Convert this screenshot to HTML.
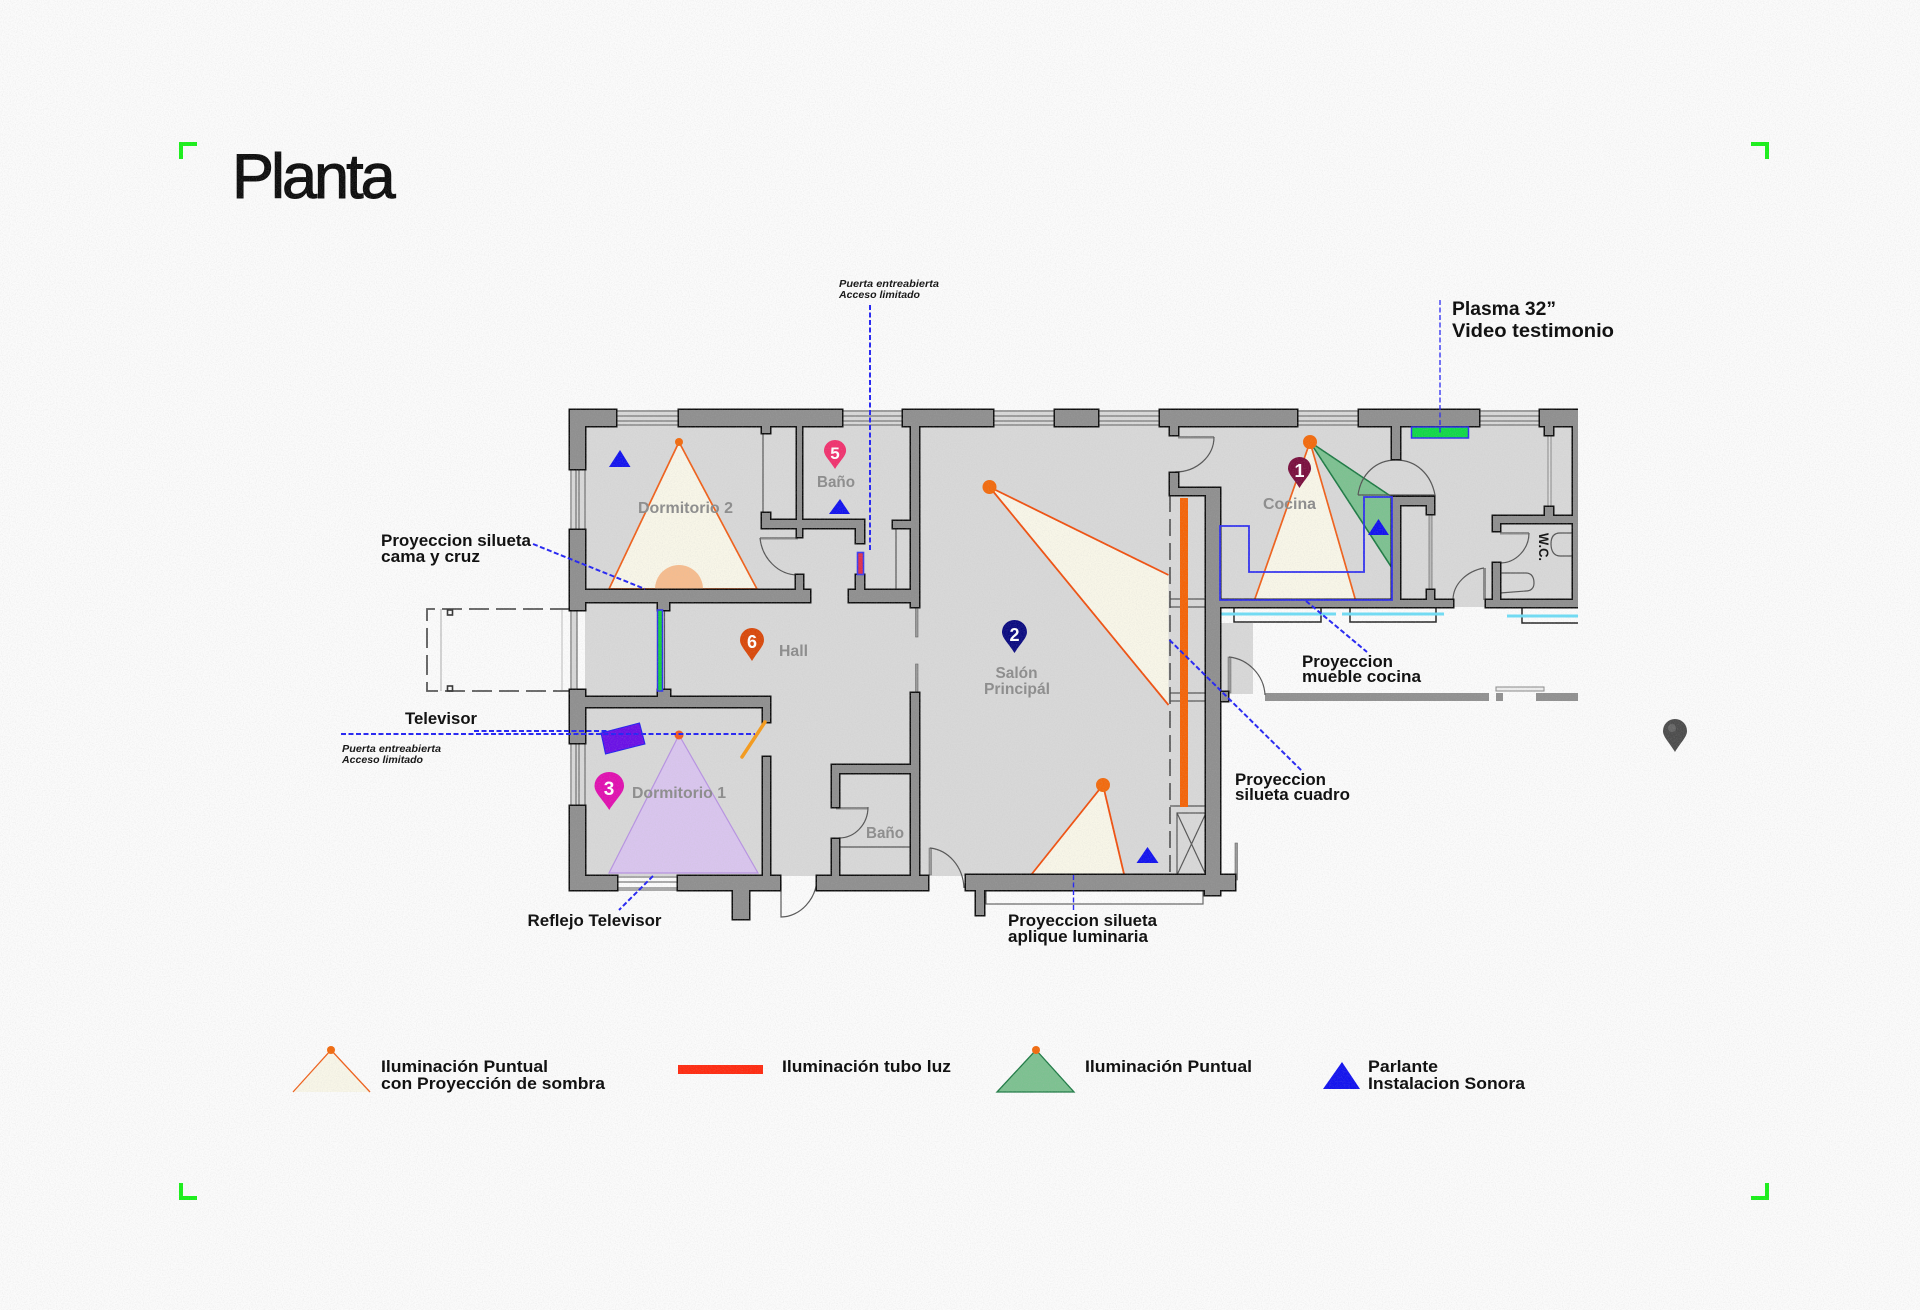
<!DOCTYPE html>
<html lang="es"><head><meta charset="utf-8"><title>Planta</title>
<style>
html,body{margin:0;padding:0;background:#fbfbfb;width:1920px;height:1310px;overflow:hidden}
svg{display:block}
text{font-family:"Liberation Sans",sans-serif}
.l{font-weight:700;font-size:16.5px;fill:#0a0a0a}
.r{font-weight:700;font-size:15.5px;fill:#8c8c8c}
.i{font-weight:700;font-style:italic;font-size:10px;fill:#111}
.n{font-weight:700;fill:#fff;text-anchor:middle}
.thin{fill:none;stroke:#555;stroke-width:1.2}
.win{fill:none;stroke:#777;stroke-width:1.3}
.d{fill:none;stroke:#2424f4;stroke-width:2;stroke-dasharray:5 2.5}
.tri{fill:#f8f6e8;stroke:#f0601a;stroke-width:1.7}
</style></head><body>
<svg width="1920" height="1310" viewBox="0 0 1920 1310" xmlns="http://www.w3.org/2000/svg">
<defs>
<filter id="nz" x="0" y="0" width="100%" height="100%"><feTurbulence type="fractalNoise" baseFrequency="0.85" numOctaves="2" seed="4"/><feColorMatrix type="matrix" values="0 0 0 0 0.5  0 0 0 0 0.5  0 0 0 0 0.5  1.4 0 0 0 -0.55"/></filter>
<clipPath id="c"><rect x="0" y="0" width="1578" height="1310"/></clipPath>
<path id="pin" d="M12 33C6 23 0 18 0 12A12 12 0 0 1 24 12C24 18 18 23 12 33Z"/>
<g id="w">
<rect x="570" y="410" width="46" height="16"/><rect x="570" y="410" width="15" height="59"/>
<rect x="679" y="410" width="163" height="16"/><rect x="903" y="410" width="90" height="16"/>
<rect x="1055" y="410" width="43" height="16"/><rect x="1160" y="410" width="137" height="16"/>
<rect x="1359" y="410" width="120" height="16"/><rect x="1540" y="410" width="50" height="16"/>
<rect x="762" y="426" width="8" height="7"/><rect x="797" y="426" width="5" height="111"/>
<rect x="762" y="520" width="102" height="8"/><rect x="762" y="513" width="8" height="15"/><rect x="856" y="520" width="8" height="23"/>
<rect x="796" y="575" width="7" height="15"/>
<rect x="570" y="530" width="15" height="80"/><rect x="570" y="590" width="240" height="12"/><rect x="658" y="602" width="11" height="8"/>
<rect x="849" y="590" width="69" height="12"/><rect x="856" y="575" width="8" height="15"/><rect x="893" y="521" width="18" height="7"/>
<rect x="911" y="426" width="8" height="181"/>
<rect x="570" y="690" width="15" height="53"/><rect x="570" y="697" width="200" height="10"/><rect x="658" y="690" width="12" height="7"/><rect x="763" y="707" width="7" height="15"/>
<rect x="763" y="757" width="7" height="119"/><rect x="570" y="806" width="15" height="84"/><rect x="570" y="876" width="47" height="14"/>
<rect x="678" y="876" width="102" height="14"/><rect x="733" y="890" width="16" height="29"/>
<rect x="832" y="765" width="86" height="8"/><rect x="832" y="765" width="7" height="42"/><rect x="832" y="839" width="7" height="38"/>
<rect x="817" y="876" width="111" height="14"/><rect x="911" y="693" width="8" height="184"/>
<rect x="966" y="875" width="269" height="15"/><rect x="976" y="890" width="8" height="25"/><rect x="1205" y="890" width="15" height="5"/>
<rect x="1170" y="426" width="8" height="9"/><rect x="1170" y="473" width="8" height="22"/><rect x="1170" y="488" width="50" height="7"/><rect x="1206" y="488" width="14" height="387"/>
<rect x="1220" y="600" width="233" height="7"/><rect x="1392" y="426" width="8" height="33"/>
<rect x="1392" y="497" width="8" height="103"/><rect x="1392" y="497" width="42" height="8"/><rect x="1427" y="505" width="7" height="9"/><rect x="1427" y="590" width="7" height="10"/>
<rect x="1486" y="600" width="110" height="7"/><rect x="1545" y="426" width="8" height="9"/><rect x="1545" y="507" width="8" height="10"/>
<rect x="1493" y="516" width="80" height="7"/><rect x="1493" y="523" width="7" height="8"/><rect x="1493" y="563" width="7" height="37"/><rect x="1573" y="410" width="20" height="197"/>
<rect x="1221" y="692" width="7" height="9"/>
</g>
</defs>

<rect width="1920" height="1310" fill="#fbfbfb"/>

<!-- floor -->
<path d="M572 410H1578V607H1220V623H1253V694H1220V876H572Z" fill="#d8d8d8"/>
<rect x="577" y="610" width="8" height="80" fill="#fbfbfb"/>

<!-- windows -->
<g class="win">
<path d="M616 411H679M616 416H679M616 421H679M616 425H679"/>
<path d="M842 411H903M842 416H903M842 421H903M842 425H903"/>
<path d="M993 411H1055M993 416H1055M993 421H1055M993 425H1055"/>
<path d="M1098 411H1160M1098 416H1160M1098 421H1160M1098 425H1160"/>
<path d="M1297 411H1359M1297 416H1359M1297 421H1359M1297 425H1359"/>
<path d="M1479 411H1540M1479 416H1540M1479 421H1540M1479 425H1540"/>
<path d="M571 469V530M576 469V530M579 469V530M585 469V530"/>
<path d="M571 743V806M576 743V806M579 743V806M585 743V806"/>
<path d="M617 877H678M617 882H678M617 888H678M617 890H678"/>
<path d="M571 610V690M577 610V690"/>
</g>
<path d="M562 610V690" stroke="#bbb" fill="none"/>

<!-- terrace -->
<path d="M570 609H427V691H570" fill="none" stroke="#555" stroke-width="1.8" stroke-dasharray="20 7"/>
<path d="M441 609V691" stroke="#aaa" fill="none"/>
<rect x="447.500" y="610" width="5" height="5" fill="none" stroke="#333" stroke-width="1.6"/>
<rect x="447.500" y="686" width="5" height="5" fill="none" stroke="#333" stroke-width="1.6"/>

<!-- outside kitchen elements -->
<path d="M1234 607V622H1321V607M1350 607V622H1436V607M1522 608V623H1578" fill="none" stroke="#222" stroke-width="1.5"/>
<path d="M1219 614H1336M1342 614H1444M1507 616H1578" stroke="#6fdcf5" stroke-width="3" fill="none"/>
<rect x="1265" y="693" width="224" height="8" fill="#909090"/><rect x="1496" y="693" width="7" height="8" fill="#909090"/><rect x="1536" y="693" width="42" height="8" fill="#909090"/>
<rect x="1496" y="687" width="48" height="4" fill="#eee" stroke="#888"/>
<path d="M986 890V904H1203V890" fill="none" stroke="#666" stroke-width="1.2"/>

<!-- thin interior -->
<path d="M1170 599H1206M1170 607H1206M1170 693H1206M1170 701H1206M1170 806H1206M1177 875V813H1206M1177 813L1206 875M1206 813L1177 875" class="thin"/>
<path d="M1170 495V875" stroke="#444" stroke-width="1.5" stroke-dasharray="17 7" fill="none"/>
<path d="M763 433V513M896 528V590M664.500 610V691M839 847H911" class="thin"/>
<rect x="915.500" y="607" width="2.500" height="30" fill="#999" stroke="#666" stroke-width=".6"/><rect x="915.500" y="664" width="2.500" height="29" fill="#999" stroke="#666" stroke-width=".6"/>
<rect x="1429" y="514" width="3" height="76" fill="#bbb" stroke="#666" stroke-width=".7"/><rect x="1548" y="435" width="3" height="72" fill="#ddd" stroke="#666" stroke-width=".7"/>
<rect x="1235" y="843" width="2.500" height="37" fill="#999" stroke="#666" stroke-width=".6"/>

<!-- doors -->
<rect x="760" y="537" width="38" height="2.500" fill="#888"/><path d="M760 538C762 558 778 575 798 575" class="thin"/>
<rect x="1178" y="436" width="36" height="2.500" fill="#888"/><path d="M1214 437C1214 456 1197 472 1175 472" class="thin"/>
<rect x="1500" y="532" width="29" height="2.500" fill="#888"/><path d="M1529 533C1529 549 1516 563 1500 563" class="thin"/>
<rect x="1483" y="568" width="3" height="32" fill="#888"/><path d="M1484 568C1467 571 1453 584 1453 600" class="thin"/>
<rect x="836" y="807" width="32" height="2.500" fill="#888"/><path d="M868 807C868 824 855 838 839 838" class="thin"/>
<path d="M781 880V917C800 917 817 899 817 877" class="thin"/>
<rect x="929" y="848" width="2.500" height="27" fill="#999" stroke="#666" stroke-width=".5"/><path d="M930 848C948 850 963 866 964 888" class="thin"/>
<rect x="1228" y="657" width="3" height="36" fill="#999" stroke="#666" stroke-width=".5"/><path d="M1229 657C1248 659 1264 675 1265 695" class="thin"/>

<!-- fixtures -->
<path d="M1500 573H1526C1532 573 1534 578 1534 583C1534 589 1530 591 1526 591L1500 593M1573 533H1560C1553 533 1551 538 1551 544C1551 551 1554 556 1560 556H1573" class="thin"/>

<!-- lights -->
<path d="M679 442L609 589H757Z" class="tri"/>
<path d="M655 589A24 24 0 0 1 703 589Z" fill="#f6bc8e"/>
<circle cx="679" cy="442" r="4" fill="#f26a0d"/>
<path d="M1168.500 575L989.500 487L1168.500 705" fill="#f8f6e8" stroke="#f0500f" stroke-width="1.800"/>
<circle cx="989.500" cy="487" r="7" fill="#f26a0d"/>
<path d="M1103 785L1031 875H1124Z" fill="#f8f6e8"/><path d="M1031 875L1103 785L1124 874" fill="none" stroke="#f0500f" stroke-width="1.800"/>
<circle cx="1103" cy="785" r="7" fill="#f26a0d"/>
<path d="M1310 442L1254.500 600H1355.500Z" class="tri"/>
<path d="M1310 442L1392 497V568Z" fill="#7cc190" stroke="#1d7a44" stroke-width="1.600"/>
<circle cx="1310" cy="442" r="7" fill="#f26a0d"/>
<path d="M609 873L679 735L758 873Z" fill="#d9c5ee" stroke="#b792e2" stroke-width="1.200"/>
<path d="M1358 495C1361 474 1376 460 1396 460C1416 460 1431 474 1435 495H1358" class="thin"/>

<!-- walls -->
<g clip-path="url(#c)">
<use href="#w" fill="#0c0c0c" stroke="#0c0c0c" stroke-width="3"/>
<use href="#w" fill="#8f8f8f"/>
</g>
<rect x="1180" y="498" width="8" height="309" fill="#f46408"/>

<!-- kitchen counter -->
<path d="M1220 526H1249V572H1364V497H1392V600H1220Z" fill="none" stroke="#2f2ff0" stroke-width="1.800"/>
<circle cx="679" cy="735" r="4.500" fill="#f05a22"/>

<!-- coloured items -->
<rect x="857.500" y="552.500" width="6" height="22" fill="#e0304a" stroke="#3a3af0" stroke-width="1.600"/>
<rect x="657.500" y="610" width="5" height="81" fill="#12d040" stroke="#3030f0" stroke-width="1.500"/>
<rect x="1411.500" y="427" width="57" height="11" fill="#10d848" stroke="#3030f0" stroke-width="1.500"/>
<path d="M601 733L639.500 723L645 744L605.500 754Z" fill="#6a0fe6" stroke="#2020f0"/>
<path d="M765 722L742 757" stroke="#f59a1a" stroke-width="3.500" fill="none" stroke-linecap="round"/>

<!-- speakers -->
<g fill="#1212ee">
<path d="M620 450L630.500 467H609Z"/><path d="M840 499L850 514H829Z"/><path d="M1378.500 519L1389 535H1368Z"/><path d="M1147.500 847L1158.500 863H1136.500Z"/>
</g>

<!-- leaders -->
<path class="d" d="M533 544L645 589"/>
<path class="d" d="M870 305V550"/>
<path d="M1440 300V433" fill="none" stroke="#2424f4" stroke-width="1.300" stroke-dasharray="5 2.500"/>
<path class="d" d="M1306 601L1367 652"/>
<path class="d" d="M1169.500 640L1302 771"/>
<path class="d" d="M341 734H755"/>
<path class="d" d="M474 731H609"/>
<path class="d" d="M653 876L619 910"/>
<path d="M1073.500 875V912" fill="none" stroke="#2424f4" stroke-width="1.400" stroke-dasharray="5 2.500"/>

<!-- pins -->
<use href="#pin" transform="translate(1288 457) scale(.96 .94)" fill="#7a0f3e"/>
<use href="#pin" transform="translate(1002 620) scale(1.040 1)" fill="#0a0a80"/>
<use href="#pin" transform="translate(594.500 772) scale(1.230 1.150)" fill="#e010b0"/>
<use href="#pin" transform="translate(824 440) scale(.92 .88)" fill="#f0326e"/>
<use href="#pin" transform="translate(740 628) scale(1 1)" fill="#d9480a"/>
<use href="#pin" transform="translate(1663 719) scale(1 1)" fill="#4c4c4c"/>
<circle cx="1672" cy="728" r="4" fill="#777" opacity=".6"/>
<text class="n" x="1299.500" y="477" font-size="18">1</text>
<text class="n" x="1014.500" y="641" font-size="18">2</text>
<text class="n" x="609" y="795" font-size="19">3</text>
<text class="n" x="835" y="459" font-size="17">5</text>
<text class="n" x="752" y="648" font-size="18">6</text>

<!-- room labels -->
<text class="r" x="638" y="513" textLength="95" lengthAdjust="spacingAndGlyphs">Dormitorio 2</text>
<text class="r" x="817" y="487" textLength="38" lengthAdjust="spacingAndGlyphs">Baño</text>
<text class="r" x="779" y="656" textLength="29" lengthAdjust="spacingAndGlyphs">Hall</text>
<text class="r" x="1263" y="509" textLength="53" lengthAdjust="spacingAndGlyphs">Cocina</text>
<text class="r" x="995.500" y="678" textLength="42" lengthAdjust="spacingAndGlyphs">Salón</text>
<text class="r" x="984" y="694" textLength="66" lengthAdjust="spacingAndGlyphs">Principál</text>
<text class="r" x="632" y="798" textLength="94" lengthAdjust="spacingAndGlyphs">Dormitorio 1</text>
<text class="r" x="866" y="838" textLength="38" lengthAdjust="spacingAndGlyphs">Baño</text>
<text font-weight="700" font-size="14" fill="#111" transform="translate(1539 533) rotate(90)" textLength="28" lengthAdjust="spacingAndGlyphs">W.C.</text>

<!-- annotations -->
<text class="l" x="381" y="546" textLength="150" lengthAdjust="spacingAndGlyphs">Proyeccion silueta</text>
<text class="l" x="381" y="562" textLength="99" lengthAdjust="spacingAndGlyphs">cama y cruz</text>
<text class="l" x="405" y="724" textLength="72" lengthAdjust="spacingAndGlyphs">Televisor</text>
<text class="i" x="342" y="752" textLength="99" lengthAdjust="spacingAndGlyphs">Puerta entreabierta</text>
<text class="i" x="342" y="763" textLength="81" lengthAdjust="spacingAndGlyphs">Acceso limitado</text>
<text class="i" x="839" y="287" textLength="100" lengthAdjust="spacingAndGlyphs">Puerta entreabierta</text>
<text class="i" x="839" y="298" textLength="81" lengthAdjust="spacingAndGlyphs">Acceso limitado</text>
<text class="l" x="527.500" y="926" textLength="134" lengthAdjust="spacingAndGlyphs">Reflejo Televisor</text>
<text class="l" x="1008" y="926" textLength="149" lengthAdjust="spacingAndGlyphs">Proyeccion silueta</text>
<text class="l" x="1008" y="942" textLength="140" lengthAdjust="spacingAndGlyphs">aplique luminaria</text>
<text class="l" x="1235" y="785" textLength="91" lengthAdjust="spacingAndGlyphs">Proyeccion</text>
<text class="l" x="1235" y="800" textLength="115" lengthAdjust="spacingAndGlyphs">silueta cuadro</text>
<text class="l" x="1302" y="667" textLength="91" lengthAdjust="spacingAndGlyphs">Proyeccion</text>
<text class="l" x="1302" y="682" textLength="119" lengthAdjust="spacingAndGlyphs">mueble cocina</text>
<text class="l" x="1452" y="315" style="font-size:19px" textLength="104" lengthAdjust="spacingAndGlyphs">Plasma 32”</text>
<text class="l" x="1452" y="337" style="font-size:19px" textLength="162" lengthAdjust="spacingAndGlyphs">Video testimonio</text>

<!-- legend -->
<path d="M331 1050L293 1092H370Z" fill="#f8f6e8" stroke="none"/><path d="M293 1092L331 1050L370 1092" fill="none" stroke="#f0601a" stroke-width="1.300"/>
<circle cx="331" cy="1050" r="4" fill="#f26a0d"/>
<text class="l" x="381" y="1072" textLength="167" lengthAdjust="spacingAndGlyphs">Iluminación Puntual</text>
<text class="l" x="381" y="1089" textLength="224" lengthAdjust="spacingAndGlyphs">con Proyección de sombra</text>
<rect x="678" y="1065" width="85" height="9" fill="#ff2a10"/>
<text class="l" x="782" y="1072" textLength="169" lengthAdjust="spacingAndGlyphs">Iluminación tubo luz</text>
<path d="M1036 1050L997 1092H1074Z" fill="#7cc190" stroke="#1d7a44" stroke-width="1.300"/>
<circle cx="1036" cy="1050" r="4" fill="#f26a0d"/>
<text class="l" x="1085" y="1072" textLength="167" lengthAdjust="spacingAndGlyphs">Iluminación Puntual</text>
<path d="M1342 1062L1360 1089H1323Z" fill="#1212ee"/>
<text class="l" x="1368" y="1072" textLength="70" lengthAdjust="spacingAndGlyphs">Parlante</text>
<text class="l" x="1368" y="1089" textLength="157" lengthAdjust="spacingAndGlyphs">Instalacion Sonora</text>

<!-- title -->
<text x="232" y="198" font-size="63" fill="#0c0c0c" stroke="#0c0c0c" stroke-width="1" letter-spacing="-3">Planta</text>

<!-- corners -->
<g fill="none" stroke="#18f018" stroke-width="4">
<path d="M181 159V144H197"/>
<path d="M1751 144H1767V159"/>
<path d="M181 1183V1198H197"/>
<path d="M1751 1198H1767V1183"/>
</g>

<!-- grain -->
<rect width="1920" height="1310" filter="url(#nz)" opacity=".3"/>
</svg>
</body></html>
